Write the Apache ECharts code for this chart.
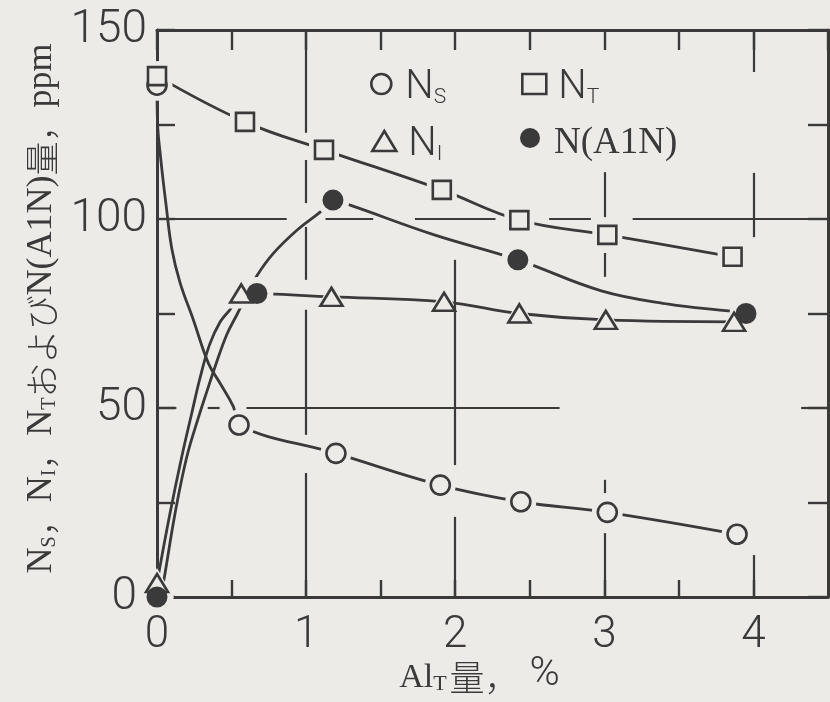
<!DOCTYPE html>
<html><head><meta charset="utf-8">
<script src="https://cdn.jsdelivr.net/npm/echarts@6/dist/echarts.min.js"></script>
<style>html,body{margin:0;padding:0;background:#ecebe8}#c{width:830px;height:702px}</style>
</head><body><div id="c"></div>
<script>
// ---- data (x = Al_T %, y = ppm) ----
const xTickLabels = [0, 1, 2, 3, 4];
const yTickLabels = [0, 50, 100, 150];

// measured points (markers)
const NS_points  = [[0,135.4],[0.55,45.5],[1.2,38],[1.9,29.6],[2.44,25.2],[3.02,22.4],[3.89,16.6]];
const NT_points  = [[0,137.8],[0.59,125.7],[1.12,118.3],[1.91,107.7],[2.43,99.7],[3.02,95.8],[3.86,90]];
const NI_points  = [[0,3.7],[0.565,80.3],[1.17,79.4],[1.925,78.1],[2.43,75],[3.01,73.3],[3.87,72.8]];
const AlN_points = [[0,0],[0.67,80.3],[1.18,105],[2.42,89.2],[3.95,75]];

// hand-drawn curves
const NS_curve  = [[0,135.4],[0.003,126],[0.025,116],[0.06,104],[0.1,92],[0.155,83.1],[0.244,73.3],[0.345,61.8],[0.424,56.5],[0.513,50.3],[0.55,45.5],[1.2,38],[1.9,29.6],[2.44,25.2],[3.02,22.4],[3.89,16.6]];
const NT_curve  = [[0,137.8],[0.59,125.7],[1.12,118.3],[1.91,107.7],[2.43,99.7],[3.02,95.8],[3.86,90]];
const NI_curve  = [[0,3.7],[0.015,7],[0.087,22.1],[0.166,37.1],[0.233,48.6],[0.289,58],[0.352,66.7],[0.424,72.8],[0.491,76.1],[0.565,80.3],[1.17,79.4],[1.925,78.1],[2.43,75],[3.01,73.3],[3.87,72.8]];
const AlN_curve = [[0.025,0],[0.054,6.3],[0.121,22.1],[0.2,37.1],[0.278,47.5],[0.338,54.8],[0.39,61],[0.469,69.5],[0.54,75],[0.6,79.8],[0.67,85],[0.78,90.9],[0.94,97.1],[1.096,101.9],[1.18,105],[1.3,103.6],[1.86,95.8],[2.42,89.2],[2.98,81],[3.43,77.5],[3.85,75.6],[3.95,75]];

// broken guide lines of the original drawing (data coords)
const vGuides = [[1,150,122.8],[1,115.6,104.2],[1,97.9,83.9],[1,76,42.9],[1,32.8,0],
                 [2,89.2,34.9],[2,21.2,0],
                 [3,112.4,100.5],[3,91,84.7],[3,31,27.5],[3,16.9,0],
                 [4,150,138.9],[4,112.2,95.2],[4,11.1,0]];
const hGuides = [[100,0.1,0.87],[100,1.13,1.45],[100,1.73,2.27],[100,2.63,2.91],[100,3.19,4.5],
                 [50,0,0.13],[50,0.34,0.42],[50,0.6,2.7],[50,4.32,4.5]];

const INK = '#3a3a3a', BG = '#ecebe8';
const SANS = 'Roboto, "DejaVu Sans", sans-serif';
const SERIF = '"Liberation Serif", "DejaVu Serif", serif';
const CJK = '"Noto Sans CJK JP", sans-serif';

const guideData = [];
vGuides.forEach(g => guideData.push([{coord:[g[0],g[1]]},{coord:[g[0],g[2]]}]));
hGuides.forEach(g => guideData.push([{coord:[g[1],g[0]]},{coord:[g[2],g[0]]}]));

const markers = {
  NS:  {data: NS_points,  symbol:'circle',   size:19,      fill:BG,  bw:2.6},
  NT:  {data: NT_points,  symbol:'rect',     size:18,      fill:BG,  bw:2.6},
  NI:  {data: NI_points,  symbol:'triangle', size:[22,18], fill:BG,  bw:2.6},
  AlN: {data: AlN_points, symbol:'circle',   size:21,      fill:INK, bw:0}
};
const curves = {NS: NS_curve, NT: NT_curve, NI: NI_curve, AlN: AlN_curve};

const series = [];
series.push({type:'line', name:'guides', data:[[0,0]], symbol:'none', lineStyle:{opacity:0}, z:1, silent:true,
  markLine:{silent:true, symbol:['none','none'], label:{show:false}, lineStyle:{color:INK, width:2.2, type:'solid'}, data: guideData}});
Object.keys(curves).forEach(k => {
  series.push({type:'line', name:k+'_curve', data:curves[k], showSymbol:false, symbol:'none',
    smooth:0.4, lineStyle:{color:INK, width:2.8}, z:2, silent:true});
});
Object.keys(markers).forEach(k => {
  const m = markers[k];
  const halo = Array.isArray(m.size) ? [m.size[0]+12, m.size[1]+12] : m.size+12;
  series.push({type:'scatter', name:k+'_halo', data:m.data, symbol:m.symbol, symbolSize:halo,
    itemStyle:{color:BG, opacity:1}, z:3, silent:true, clip:false});
});
Object.keys(markers).forEach(k => {
  const m = markers[k];
  series.push({type:'scatter', name:k, data:m.data, symbol:m.symbol, symbolSize:m.size,
    itemStyle:{color:m.fill, borderColor:INK, borderWidth:m.bw, opacity:1}, z:4, clip:false});
});

const legendRich = {
  n: {fontFamily:SANS, fontWeight:300, fontSize:40, lineHeight:40, color:INK, verticalAlign:'bottom'},
  s: {fontFamily:SANS, fontWeight:300, fontSize:21, lineHeight:26, color:INK, verticalAlign:'bottom'},
  m: {fontFamily:SERIF, fontSize:37, lineHeight:40, color:INK, verticalAlign:'bottom'}
};
const legendText = {NS:'{n|N}{s|S}', NT:'{n|N}{s|T}', NI:'{n|N}{s|I}', AlN:'{m|N(A1N)}'};
const legendPos = {NS:[370,68], NT:[521,68], NI:[371,125], AlN:[520,125]};
const legendIcon = {NS:'circle', NT:'rect', NI:'triangle', AlN:'circle'};
const legends = Object.keys(legendText).map(k => ({
  left: legendPos[k][0], top: legendPos[k][1], orient:'horizontal', itemWidth:24, itemHeight:20,
  selectedMode:false, padding:0,
  data:[{name:k, icon:legendIcon[k], itemStyle:{color:markers[k].fill, borderColor:INK, borderWidth:markers[k].bw}}],
  formatter: () => legendText[k],
  textStyle:{color:INK, padding:[8,0,0,7], rich:legendRich}
}));

const axisLineStyle = {color:INK, width:3};
const tickStyle = {color:INK, width:2.4};

const option = {
  animation:false,
  backgroundColor:BG,
  grid:{left:157, right:2, top:30, bottom:105, containLabel:false, outerBoundsMode:'none'},
  legend: legends,
  xAxis:[{
    type:'value', position:'bottom', min:0, max:4.5, interval:0.5,
    axisLine:{show:true, onZero:false, lineStyle:axisLineStyle},
    axisTick:{show:true, inside:true, length:17, lineStyle:tickStyle},
    splitLine:{show:false},
    axisLabel:{margin:17, color:INK, fontFamily:SANS, fontWeight:300, fontSize:44, showMaxLabel:false,
      formatter: v => xTickLabels.indexOf(v) >= 0 ? String(v) : ''},
    name:'{a|Al}{t|T}{b|量，}{c|%}', nameLocation:'middle', nameGap:62, nameMoveOverlap:false,
    nameTextStyle:{padding:[0,26,0,0], rich:{
      a:{fontFamily:SERIF, fontSize:34, lineHeight:36, color:INK, verticalAlign:'bottom'},
      t:{fontFamily:SERIF, fontSize:22, lineHeight:27, color:INK, verticalAlign:'bottom'},
      b:{fontFamily:CJK, fontWeight:300, fontSize:35, lineHeight:36, color:INK, verticalAlign:'bottom', padding:[0,0,0,3]},
      c:{fontFamily:SANS, fontWeight:300, fontSize:41, lineHeight:36, color:INK, verticalAlign:'bottom', padding:[0,0,0,10]}
    }}
  },{
    type:'value', position:'top', min:0, max:4.5, interval:0.5,
    axisLine:{show:true, onZero:false, lineStyle:axisLineStyle},
    axisTick:{show:true, inside:true, length:20, lineStyle:tickStyle},
    axisLabel:{show:false}, splitLine:{show:false}
  }],
  yAxis:[{
    type:'value', position:'left', min:0, max:150, interval:25,
    axisLine:{show:true, onZero:false, lineStyle:axisLineStyle},
    axisTick:{show:true, inside:true, length:18, lineStyle:tickStyle},
    splitLine:{show:false},
    axisLabel:{margin:10, color:INK, fontFamily:SANS, fontWeight:300, fontSize:46,
      formatter: v => yTickLabels.indexOf(v) < 0 ? '' : (v === 0 ? '{z|0}' : String(v)),
      rich:{z:{fontFamily:SANS, fontWeight:300, fontSize:46, color:INK, padding:[0,10,0,0]}}},
    name:'{n|N}{s|S}{c|，}{n|N}{s|I}{c|，}{n|N}{s|T}{j|および}{n|N(A1N)}{j|量}{c|，}{n|ppm}',
    nameLocation:'middle', nameGap:85, nameRotate:90,
    nameTextStyle:{padding:[0,0,0,10], rich:{
      n:{fontFamily:SERIF, fontSize:36, lineHeight:36, color:INK, verticalAlign:'bottom'},
      s:{fontFamily:SERIF, fontSize:20, lineHeight:25, color:INK, verticalAlign:'bottom'},
      c:{fontFamily:CJK, fontWeight:300, fontSize:34, lineHeight:36, color:INK, verticalAlign:'bottom'},
      j:{fontFamily:CJK, fontWeight:300, fontSize:34, lineHeight:36, color:INK, verticalAlign:'bottom'}
    }}
  },{
    type:'value', position:'right', min:0, max:150, interval:25,
    axisLine:{show:true, onZero:false, lineStyle:axisLineStyle},
    axisTick:{show:true, inside:true, length:20, lineStyle:tickStyle},
    axisLabel:{show:false}, splitLine:{show:false}
  }],
  series: series
};
const chart = echarts.init(document.getElementById('c'));
chart.setOption(option);
</script></body></html>
